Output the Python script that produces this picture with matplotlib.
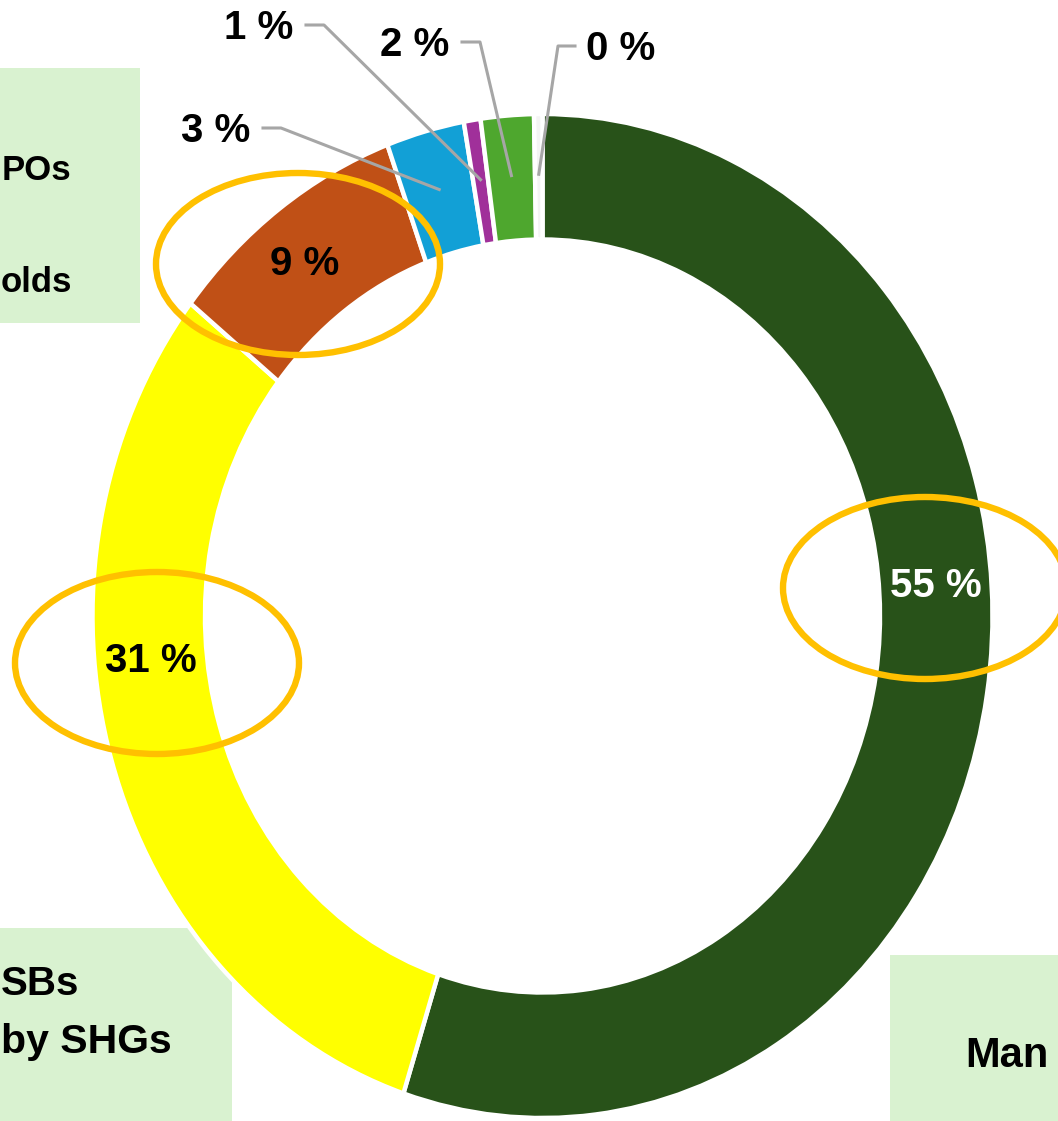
import matplotlib
matplotlib.use("Agg")
import matplotlib.pyplot as plt
import numpy as np
from matplotlib.patches import Ellipse, Rectangle
from matplotlib.lines import Line2D

# slice shares (percent), clockwise from 12 o'clock
shares = [55.0, 30.7, 8.7, 2.8, 0.6, 1.9, 0.3]
colors = ["#285219", "#FFFF00", "#C05016", "#12A0D6", "#A0309A", "#4EA72E", "#F4F4F4"]
labels = [f"{v:.0f} %" for v in shares]

W, H = 1058, 1121
fig = plt.figure(figsize=(W / 100, H / 100), dpi=100)


def fx(x):
    return x / W


def fy(y):
    return 1 - y / H


# light green caption boxes (behind the donut)
box_col = "#D9F2D0"
boxes = [(0, 68, 140, 323), (0, 928, 232, 1121), (890, 955, 1058, 1121)]
for (x0, y0, x1, y1) in boxes:
    fig.add_artist(Rectangle((fx(x0), fy(y1)), (x1 - x0) / W, (y1 - y0) / H,
                             facecolor=box_col, edgecolor="none", transform=fig.transFigure,
                             zorder=-1))

# donut is stretched vertically in the original (rx=450, ry=502 px)
cx, cy, rx, ry = 542.5, 616, 450, 502
ax = fig.add_axes([fx(cx - rx), fy(cy + ry), 2 * rx / W, 2 * ry / H])
wedges, _ = ax.pie(shares, colors=colors, startangle=90, counterclock=False,
                   radius=1, wedgeprops=dict(width=0.25, edgecolor="white", linewidth=3.2))
ax.set_aspect("auto")
ax.set_xlim(-1, 1)
ax.set_ylim(-1, 1)
ax.axis("off")

lab_font = dict(family="Liberation Sans", weight="bold", fontsize=29)

# labels inside the ring
inner = {0: (936, 586, "white"), 1: (151, 661, "black"), 2: (305, 264, "black")}
for i, (x, y, c) in inner.items():
    fig.text(fx(x), fy(y), labels[i], ha="center", va="center", color=c, **lab_font)

# labels outside with leader lines (text centre, elbow side)
outer = {3: (216, 131, "right"), 4: (259, 28, "right"),
         5: (415, 45, "right"), 6: (621, 49, "left")}
for i, (x, y, side) in outer.items():
    fig.text(fx(x), fy(y), labels[i], ha="center", va="center", color="black", **lab_font)
    w = wedges[i]
    mid = np.deg2rad((w.theta1 + w.theta2) / 2)
    px, py = ax.transData.transform((0.88 * np.cos(mid), 0.88 * np.sin(mid)))
    if side == "right":
        x0 = x + 47
        x1 = x0 + 18
    else:
        x0 = x - 46
        x1 = x0 - 17
    y0 = y - 3
    fig.add_artist(Line2D([fx(x0), fx(x1), px / W], [fy(y0), fy(y0), py / H],
                          color="#A6A6A6", lw=2.2, transform=fig.transFigure))

# highlight ellipses
for (x, y) in [(298, 264), (157, 663), (925, 588)]:
    fig.add_artist(Ellipse((fx(x), fy(y)), 284 / W, 182 / H, fill=False,
                           edgecolor="#FFC000", lw=4.6, transform=fig.transFigure))

box_font = dict(family="Liberation Sans", weight="bold", color="black")
fig.text(fx(2), fy(170), "POs", ha="left", va="center", fontsize=25, **box_font)
fig.text(fx(1), fy(283), "olds", ha="left", va="center", fontsize=25, **box_font)
fig.text(fx(1), fy(984), "SBs", ha="left", va="center", fontsize=29, **box_font)
fig.text(fx(1), fy(1042), "by SHGs", ha="left", va="center", fontsize=29.5, **box_font)
fig.text(fx(965), fy(1056), "Man", ha="left", va="center", fontsize=30, **box_font)

fig.savefig("out.png", dpi=100)
